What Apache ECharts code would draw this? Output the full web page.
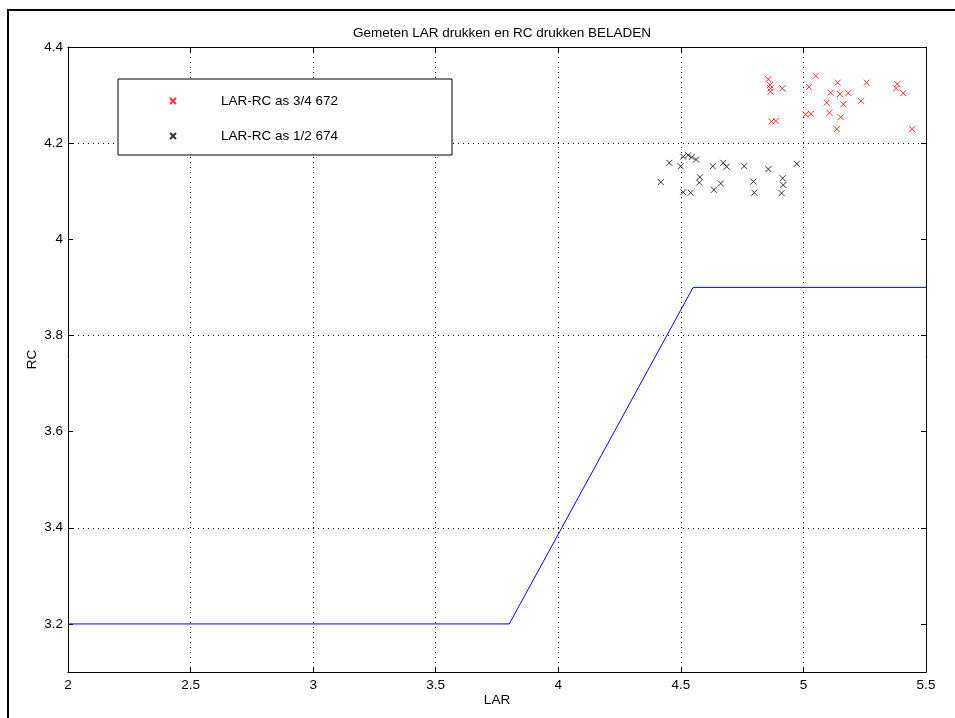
<!DOCTYPE html>
<html>
<head>
<meta charset="utf-8">
<script src="https://cdn.jsdelivr.net/npm/echarts@6/dist/echarts.min.js"></script>
<style>
  html, body { margin: 0; padding: 0; background: #fff; }
  #main { width: 955px; height: 718px; }
</style>
</head>
<body>
<div id="main"></div>
<script>
// measured LAR / RC pairs
var lar672 = [4.857, 4.864, 4.866, 4.866, 4.914, 5.050, 5.023, 5.140, 5.258, 5.383, 5.378, 5.407, 5.111,
  5.149, 5.183, 5.095, 5.163, 5.235, 5.106, 5.152, 5.009, 5.030, 4.870, 4.887, 5.136, 5.443];
var rc672 = [4.333, 4.321, 4.314, 4.307, 4.314, 4.340, 4.317, 4.326, 4.326, 4.323, 4.314, 4.304, 4.305,
  4.302, 4.304, 4.284, 4.281, 4.288, 4.263, 4.254, 4.260, 4.261, 4.245, 4.246, 4.229, 4.229];

var lar674 = [4.453, 4.499, 4.510, 4.530, 4.544, 4.562, 4.418, 4.578, 4.575, 4.510, 4.540, 4.630, 4.673,
  4.687, 4.758, 4.857, 4.973, 4.635, 4.663, 4.796, 4.800, 4.915, 4.918, 4.911];
var rc674 = [4.159, 4.152, 4.172, 4.175, 4.171, 4.166, 4.119, 4.129, 4.118, 4.098, 4.097, 4.152, 4.159,
  4.151, 4.152, 4.146, 4.157, 4.103, 4.116, 4.120, 4.097, 4.127, 4.113, 4.096];

// limit line
var limitLar = [2, 3.8, 4.55, 5.5];
var limitRc = [3.2, 3.2, 3.9, 3.9];

var yTicks = [3.2, 3.4, 3.6, 3.8, 4.0, 4.2, 4.4];

function pairs(xs, ys) {
  return xs.map(function (x, i) { return [x, ys[i]]; });
}

var font = "'Liberation Sans', Arial, sans-serif";
var fs = 13.5;
var cross = 'path://M0,0L10,10M10,0L0,10';

var myChart = echarts.init(document.getElementById('main'));
myChart.setOption({
  animation: false,
  textStyle: { fontFamily: font },
  title: {
    text: 'Gemeten LAR drukken en RC drukken BELADEN',
    left: 497,
    top: 21,
    textAlign: 'center',
    textStyle: { fontSize: fs, fontWeight: 'normal', color: '#000', fontFamily: font }
  },
  grid: { left: 68, right: 29, top: 47, bottom: 46 },
  legend: {
    orient: 'vertical',
    left: 118,
    top: 79,
    padding: [14, 10, 12, 51],
    itemGap: 19,
    itemWidth: 6,
    itemHeight: 6,
    z: 10,
    textStyle: { fontSize: fs, lineHeight: 16, color: '#000', fontFamily: font, padding: [0, 0, 0, 40] },
    data: [
      { name: 'LAR-RC as 3/4 672', icon: cross },
      { name: 'LAR-RC as 1/2 674', icon: cross }
    ]
  },
  graphic: [
    {
      type: 'rect', z: 5,
      shape: { x: 118, y: 79, width: 334, height: 76 },
      style: { fill: '#fff', stroke: '#000', lineWidth: 1 }
    },
    {
      type: 'rect', z: 5,
      shape: { x: 8, y: 10, width: 1000, height: 800 },
      style: { fill: 'none', stroke: '#000', lineWidth: 2 }
    }
  ],
  xAxis: [
    {
      type: 'value', min: 2, max: 5.5, interval: 0.5, position: 'bottom',
      name: 'LAR', nameLocation: 'middle', nameGap: 21, nameMoveOverlap: false,
      nameTextStyle: { fontSize: fs, color: '#000' },
      axisLine: { lineStyle: { color: '#000', width: 1 } },
      axisTick: { inside: true, length: 5, lineStyle: { color: '#000' } },
      axisLabel: { color: '#000', fontSize: fs, margin: 6 },
      splitLine: { show: true, lineStyle: { color: '#000', type: [1, 4], width: 1 } }
    },
    {
      type: 'value', min: 2, max: 5.5, interval: 0.5, position: 'top',
      axisLine: { lineStyle: { color: '#000', width: 1 } },
      axisTick: { inside: true, length: 5, lineStyle: { color: '#000' } },
      axisLabel: { show: false },
      splitLine: { show: false }
    }
  ],
  yAxis: [
    {
      type: 'value', min: 3.1, max: 4.4, interval: 0.1, position: 'left',
      name: 'RC', nameLocation: 'middle', nameGap: 29, nameMoveOverlap: false,
      nameTextStyle: { fontSize: fs, color: '#000' },
      axisLine: { show: true, lineStyle: { color: '#000', width: 1 } },
      axisTick: { inside: true, length: 5, customValues: yTicks, lineStyle: { color: '#000' } },
      axisLabel: {
        color: '#000', fontSize: fs, margin: 5, customValues: yTicks,
        formatter: function (v) { return String(Number(v.toFixed(1))); }
      },
      splitLine: { show: true, lineStyle: { color: ['rgba(0,0,0,0)', '#000'], type: [1, 4], width: 1 } }
    },
    {
      type: 'value', min: 3.1, max: 4.4, interval: 0.1, position: 'right',
      axisLine: { show: true, lineStyle: { color: '#000', width: 1 } },
      axisTick: { inside: true, length: 5, customValues: yTicks, lineStyle: { color: '#000' } },
      axisLabel: { show: false },
      splitLine: { show: false }
    }
  ],
  series: [
    {
      name: 'grens',
      type: 'line',
      data: pairs(limitLar, limitRc),
      symbol: 'none',
      lineStyle: { color: '#0000ff', width: 1 },
      z: 2
    },
    {
      name: 'LAR-RC as 3/4 672',
      type: 'scatter',
      data: pairs(lar672, rc672),
      symbol: cross,
      symbolSize: 6,
      itemStyle: { color: 'rgba(0,0,0,0)', borderColor: '#ff0000', borderWidth: 1 },
      z: 3
    },
    {
      name: 'LAR-RC as 1/2 674',
      type: 'scatter',
      data: pairs(lar674, rc674),
      symbol: cross,
      symbolSize: 6,
      itemStyle: { color: 'rgba(0,0,0,0)', borderColor: '#000', borderWidth: 1 },
      z: 3
    }
  ]
});
</script>
</body>
</html>
